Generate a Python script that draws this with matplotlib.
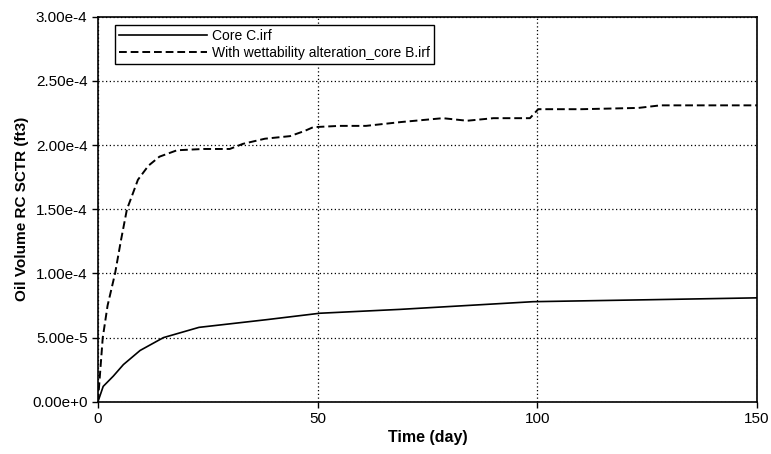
import matplotlib
matplotlib.use('Agg')
import matplotlib.pyplot as plt
from matplotlib.ticker import FuncFormatter

plt.rcParams['font.family'] = ['Liberation Sans', 'DejaVu Sans']

# Core C (solid)
t_core = [0, 1.2, 3.5, 5.8, 9.6, 14.9, 23, 38.4, 50.5, 68.7, 99, 125, 150]
v_core = [0, 0.12e-4, 0.2e-4, 0.29e-4, 0.4e-4, 0.5e-4, 0.58e-4, 0.64e-4, 0.69e-4,
          0.72e-4, 0.78e-4, 0.795e-4, 0.81e-4]

# With wettability alteration (dashed)
t_wet = [0, 1.1, 2.2, 3.9, 5.2, 6.6, 7.7, 9.1, 11.5, 14, 18, 24, 30, 33, 38, 43.7, 47, 49,
         55, 61, 69, 78.5, 84, 90, 98.3, 100.2, 110, 123, 128, 150]
v_wet = [0, 0.5e-4, 0.75e-4, 1.0e-4, 1.25e-4, 1.5e-4, 1.6e-4, 1.73e-4, 1.84e-4, 1.91e-4,
         1.96e-4, 1.97e-4, 1.97e-4, 2.01e-4, 2.05e-4, 2.07e-4, 2.11e-4, 2.14e-4,
         2.15e-4, 2.15e-4, 2.18e-4, 2.21e-4, 2.19e-4, 2.21e-4, 2.21e-4, 2.28e-4,
         2.28e-4, 2.29e-4, 2.31e-4, 2.31e-4]

x_ticks = [0, 50, 100, 150]
y_ticks = [0, 0.5e-4, 1.0e-4, 1.5e-4, 2.0e-4, 2.5e-4, 3.0e-4]


def sci_fmt(v, pos):
    if v == 0:
        return '0.00e+0'
    s = '%.2e' % v
    mant, exp = s.split('e')
    return '%se%d' % (mant, int(exp)) if int(exp) < 0 else '%se+%d' % (mant, int(exp))


fig = plt.figure(figsize=(7.71, 4.54), dpi=100)
ax = fig.add_axes([0.127, 0.115, 0.855, 0.848])

ax.plot(t_core, v_core, color='black', lw=1.2, label='Core C.irf')
ax.plot(t_wet, v_wet, color='black', lw=1.4, ls=(0, (4, 2)),
        label='With wettability alteration_core B.irf')

ax.set_xlim(0, 150)
ax.set_ylim(0, 3.0e-4)
ax.set_xticks(x_ticks)
ax.set_yticks(y_ticks)
ax.yaxis.set_major_formatter(FuncFormatter(sci_fmt))
ax.tick_params(labelsize=11, direction='out', length=4, width=1)
ax.grid(True, color='black', ls=(0, (1, 2)), lw=0.9)
for sp in ax.spines.values():
    sp.set_linewidth(1.2)

ax.set_xlabel('Time (day)', fontsize=11.5, fontweight='bold', labelpad=3)
ax.set_ylabel('Oil Volume RC SCTR (ft3)', fontsize=11, fontweight='bold', labelpad=2)

leg = ax.legend(loc='upper left', fontsize=10, handlelength=6.3, frameon=True,
                fancybox=False, edgecolor='black', framealpha=1,
                borderpad=0.3, labelspacing=0.2, handletextpad=0.35,
                borderaxespad=0, bbox_to_anchor=(0.026, 0.979))
leg.get_frame().set_linewidth(1.0)

fig.savefig('out.png', dpi=100)
